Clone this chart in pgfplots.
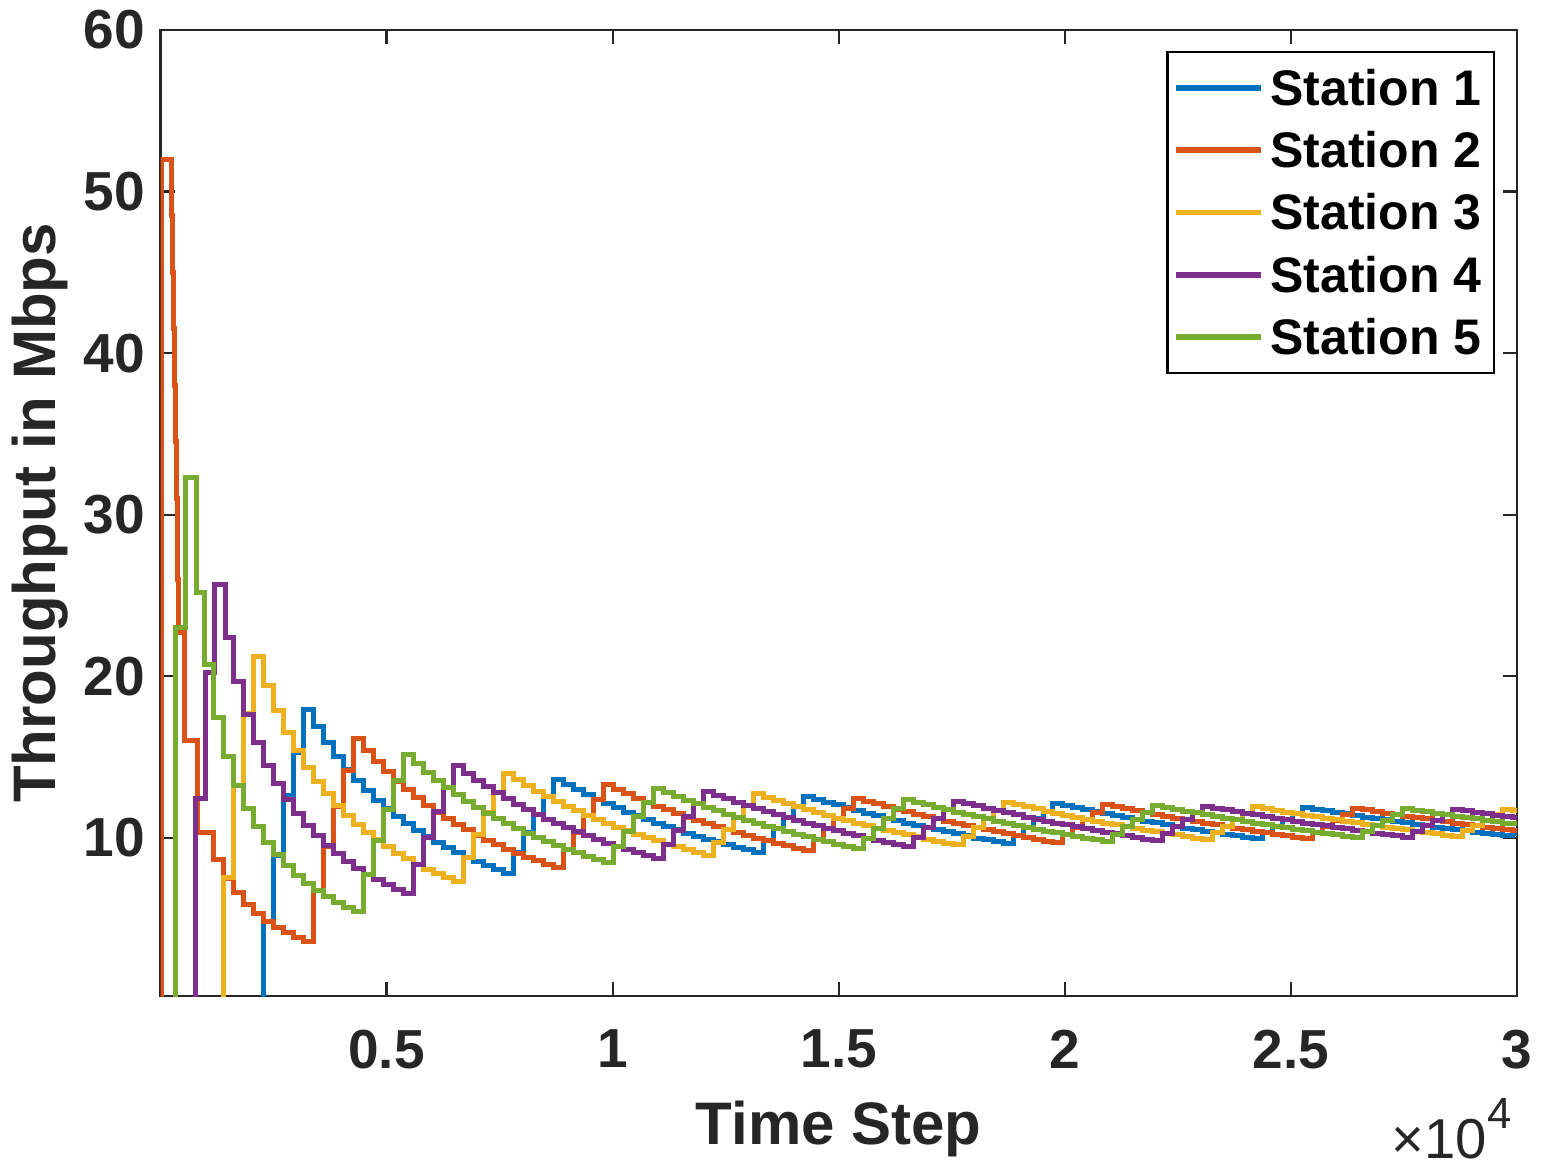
\documentclass[border=0pt]{standalone}
\usepackage{fontspec}
\setmainfont{Liberation Sans}
\usepackage{pgfplots}
\pgfplotsset{compat=1.18}
\usepackage{pgfplotstable}

\definecolor{c1}{rgb}{0,0.447,0.741}
\definecolor{c2}{rgb}{0.850,0.325,0.098}
\definecolor{c3}{rgb}{0.929,0.694,0.125}
\definecolor{c4}{rgb}{0.494,0.184,0.556}
\definecolor{c5}{rgb}{0.466,0.674,0.188}
\definecolor{axgray}{rgb}{0.15,0.15,0.15}

% early (first round) parts of each station
\pgfplotstableread{
t v
2279 0
2500 4.8
2721 8.9
2942 12.6
3163 15.3
3384 17.95
}\earlyA
\pgfplotstableread{
t v
15 0
243 52
262 48.5
281 45
300 41.5
322 38
345 34.5
372 31
398 26
530 22.7
818 16.0
1174 10.31
1395 8.67
1616 7.49
1837 6.59
2058 5.88
2279 5.31
2500 4.84
2721 4.45
2942 4.11
3163 3.83
3384 3.58
}\earlyB
\pgfplotstableread{
t v
1395 0
1616 7.52
1837 13.23
2058 17.72
2279 21.2
2500 19.45
2721 17.87
2942 16.53
3163 15.37
3384 14.37
}\earlyC
\pgfplotstableread{
t v
774 0
995 12.4
1195 20.2
1438 25.7
1616 22.4
1837 19.7
2058 17.6
2279 15.9
2500 14.5
2721 13.35
2942 12.35
3163 11.5
3384 10.78
}\earlyD
\pgfplotstableread{
t v
332 0
553 23.0
800 32.3
975 25.2
1174 20.7
1395 17.43
1616 15.04
1837 13.23
2058 11.81
2279 10.67
2500 9.72
2721 8.93
2942 8.26
3163 7.69
3384 7.18
}\earlyE

% regular part
\pgfplotstableread{
t s1 s2 s3 s4 s5
3384 17.95 3.58 14.37 10.78 7.18
3605 16.87 6.71 13.49 10.12 6.74
3826 15.89 9.48 12.71 9.53 6.35
4047 15.02 11.94 12.01 9.01 6.01
4268 14.25 14.16 11.39 8.54 5.70
4489 13.54 16.15 10.83 8.12 5.42
4710 12.91 15.39 10.32 7.74 7.73
4931 12.33 14.70 9.86 7.40 9.83
5152 11.80 14.07 9.44 7.08 11.75
5373 11.32 13.49 9.05 6.79 13.52
5594 10.87 12.96 8.69 6.52 15.14
5815 10.46 12.47 8.36 8.35 14.57
6036 10.07 12.01 8.06 10.04 14.03
6257 9.72 11.59 7.77 11.62 13.54
6478 9.39 11.19 7.51 13.09 13.08
6699 9.08 10.82 7.26 14.46 12.65
6920 8.79 10.48 8.77 14.00 12.24
7141 8.51 10.15 10.19 13.57 11.86
7362 8.26 9.85 11.53 13.16 11.51
7583 8.02 9.56 12.78 12.77 11.17
7804 7.79 9.29 13.97 12.41 10.86
8025 9.08 9.03 13.59 12.07 10.56
8246 10.30 8.79 13.22 11.75 10.27
8467 11.46 8.56 12.88 11.44 10.01
8688 12.56 8.35 12.55 11.15 9.75
8909 13.61 8.14 12.24 10.87 9.51
9130 13.28 9.26 11.94 10.61 9.28
9351 12.96 10.34 11.66 10.36 9.06
9572 12.66 11.36 11.39 10.12 8.85
9793 12.38 12.34 11.13 9.89 8.65
10014 12.10 13.27 10.89 9.67 8.46
10235 11.84 12.98 10.65 9.46 9.46
10456 11.59 12.71 10.43 9.26 10.41
10677 11.35 12.45 10.21 9.07 11.33
10898 11.12 12.20 10.00 8.89 12.21
11119 10.90 11.95 9.81 8.71 13.05
11340 10.69 11.72 9.61 9.61 12.80
11561 10.48 11.50 9.43 10.47 12.55
11782 10.29 11.28 9.25 11.30 12.32
12003 10.10 11.07 9.08 12.10 12.09
12224 9.92 10.87 8.92 12.87 11.87
12445 9.74 10.68 9.73 12.64 11.66
12666 9.57 10.49 10.51 12.42 11.46
12887 9.41 10.31 11.27 12.20 11.26
13108 9.25 10.14 12.00 12.00 11.07
13329 9.09 9.97 12.71 11.80 10.89
13550 9.84 9.81 12.50 11.61 10.71
13771 10.56 9.65 12.30 11.42 10.54
13992 11.25 9.50 12.11 11.24 10.37
14213 11.93 9.35 11.92 11.07 10.21
14434 12.58 9.21 11.74 10.90 10.05
14655 12.39 9.89 11.56 10.73 9.90
14876 12.21 10.56 11.39 10.57 9.75
15097 12.03 11.20 11.22 10.42 9.61
15318 11.86 11.83 11.06 10.27 9.47
15539 11.69 12.44 10.90 10.12 9.34
15760 11.52 12.27 10.75 9.98 9.97
15981 11.36 12.10 10.60 9.84 10.59
16202 11.21 11.93 10.46 9.71 11.19
16423 11.06 11.77 10.32 9.58 11.78
16644 10.91 11.61 10.18 9.45 12.35
16865 10.77 11.46 10.05 10.04 12.19
17086 10.63 11.31 9.92 10.62 12.03
17307 10.49 11.17 9.79 11.18 11.87
17528 10.36 11.03 9.67 11.73 11.72
17749 10.23 10.89 9.55 12.26 11.58
17970 10.11 10.76 10.10 12.11 11.44
18191 9.98 10.63 10.64 11.97 11.30
18412 9.86 10.50 11.17 11.82 11.16
18633 9.75 10.37 11.69 11.68 11.03
18854 9.63 10.25 12.19 11.55 10.90
19075 10.15 10.13 12.05 11.41 10.77
19296 10.66 10.02 11.91 11.28 10.65
19517 11.16 9.91 11.78 11.15 10.53
19738 11.65 9.79 11.64 11.03 10.41
19959 12.12 9.68 11.51 10.91 10.30
20180 11.99 10.18 11.39 10.79 10.18
20401 11.86 10.66 11.27 10.67 10.07
20622 11.74 11.13 11.14 10.55 9.97
20843 11.61 11.59 11.03 10.44 9.86
21064 11.49 12.04 10.91 10.33 9.76
21285 11.37 11.92 10.80 10.23 10.22
21506 11.25 11.80 10.69 10.12 10.68
21727 11.14 11.68 10.58 10.02 11.13
21948 11.03 11.56 10.47 9.92 11.56
22169 10.92 11.44 10.37 9.82 12.00
22390 10.81 11.33 10.26 10.26 11.88
22611 10.70 11.22 10.17 10.70 11.76
22832 10.60 11.11 10.07 11.12 11.65
23053 10.50 11.01 9.97 11.54 11.54
23274 10.40 10.90 9.88 11.95 11.43
23495 10.30 10.80 10.30 11.83 11.32
23716 10.21 10.70 10.71 11.73 11.21
23937 10.11 10.60 11.12 11.62 11.11
24158 10.02 10.50 11.51 11.51 11.01
24379 9.93 10.41 11.91 11.41 10.91
24600 10.33 10.31 11.80 11.30 10.81
24821 10.72 10.22 11.69 11.20 10.71
25042 11.11 10.13 11.59 11.10 10.62
25263 11.49 10.04 11.49 11.01 10.53
25484 11.87 9.96 11.39 10.91 10.43
25705 11.76 10.34 11.29 10.82 10.34
25926 11.66 10.72 11.19 10.73 10.26
26147 11.57 11.09 11.10 10.64 10.17
26368 11.47 11.45 11.01 10.54 10.08
26589 11.37 11.81 10.92 10.46 10.00
26810 11.28 11.72 10.83 10.37 10.37
27031 11.19 11.62 10.74 10.29 10.73
27252 11.10 11.52 10.65 10.20 11.09
27473 11.01 11.43 10.56 10.12 11.44
27694 10.92 11.34 10.48 10.04 11.78
27915 10.83 11.25 10.40 10.39 11.69
28136 10.75 11.16 10.31 10.74 11.60
28357 10.66 11.08 10.23 11.08 11.51
28578 10.58 10.99 10.16 11.42 11.42
28799 10.50 10.91 10.08 11.75 11.33
29020 10.42 10.82 10.42 11.66 11.25
29241 10.34 10.74 10.75 11.58 11.16
29462 10.26 10.66 11.08 11.49 11.08
29683 10.19 10.58 11.41 11.40 10.99
29904 10.11 10.50 11.73 11.32 10.91
30000 10.25 10.47 11.69 11.28 10.88
}\gridtab

\begin{document}
\begin{tikzpicture}
\path[use as bounding box] (-64.2pt,-68.4pt) rectangle (558.2pt,398.4pt);
\begin{axis}[
  at={(0pt,0pt)}, anchor=south west,
  scale only axis, width=542.6pt, height=386.4pt,
  xmin=0, xmax=30000, ymin=0.2, ymax=60,
  xtick={5000,10000,15000,20000,25000,30000},
  xticklabels={0.5,1,1.5,2,2.5,3},
  ytick={10,20,30,40,50,60},
  scaled x ticks=false,
  minor tick num=0,
  tick align=inside,
  major tick length=5.6pt,
  axis line style={axgray, line width=0.9pt},
  every tick/.style={axgray, line width=0.9pt},
  /pgf/number format/assume math mode=true,
  xticklabel style={font=\fontsize{22}{26}\selectfont\bfseries, text=axgray, yshift=-10pt},
  yticklabel style={font=\fontsize{22}{26}\selectfont\bfseries, text=axgray, xshift=-2.7pt},
  xlabel={Time Step},
  ylabel={Throughput in Mbps},
  label style={font=\fontsize{24}{28}\selectfont\bfseries, text=axgray},
  xlabel style={at={(axis description cs:0.5,-0.1377)}, anchor=center},
  ylabel style={at={(axis description cs:-0.0888,0.5)}, anchor=center},
  legend style={at={(rel axis cs:1,1)}, anchor=north east, xshift=-8.8pt, yshift=-8.2pt,
    draw=black, line width=1pt, fill=white, text=black,
    font=\fontsize{20}{24}\selectfont\bfseries,
    inner xsep=2.4pt, inner ysep=2pt, row sep=0pt,
    nodes={inner sep=2.5pt, text height=16.9pt, text depth=3pt}},
  legend cell align=left,
  legend image code/.code={\draw[#1, line width=2.3pt, line cap=butt] (0pt,0pt) -- (34pt,0pt);},
  clip mode=individual,
  const plot mark right, no markers,
  every axis plot/.append style={line width=2pt, line cap=rect, line join=miter},
]
\addplot[c1, forget plot] table[x=t, y=v] {\earlyA};
\addplot[c1] table[x=t, y=s1] {\gridtab};
\addlegendentry{Station 1}
\addplot[c2, forget plot] table[x=t, y=v] {\earlyB};
\addplot[c2] table[x=t, y=s2] {\gridtab};
\addlegendentry{Station 2}
\addplot[c3, forget plot] table[x=t, y=v] {\earlyC};
\addplot[c3] table[x=t, y=s3] {\gridtab};
\addlegendentry{Station 3}
\addplot[c4, forget plot] table[x=t, y=v] {\earlyD};
\addplot[c4] table[x=t, y=s4] {\gridtab};
\addlegendentry{Station 4}
\addplot[c5, forget plot] table[x=t, y=v] {\earlyE};
\addplot[c5] table[x=t, y=s5] {\gridtab};
\addlegendentry{Station 5}
\node[anchor=base east, text=axgray, font=\fontsize{22.5}{26}\selectfont, inner sep=0pt]
  at (rel axis cs:1,0) [xshift=-2pt, yshift=-64.8pt] {×10\raisebox{12pt}{\fontsize{17.5}{20}\selectfont 4}};
\end{axis}
\end{tikzpicture}
\end{document}
